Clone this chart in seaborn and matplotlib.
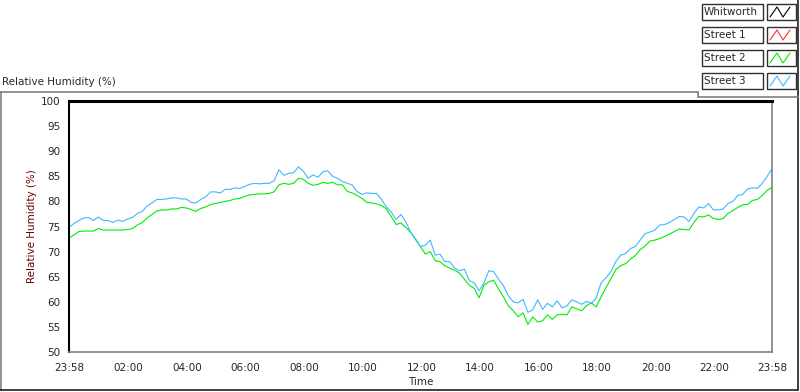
import seaborn as sns
import pandas as pd
import matplotlib.pyplot as plt
import matplotlib.dates as mdates
from matplotlib.lines import Line2D
from matplotlib.patches import Rectangle
import numpy as np

# readings every 10 minutes from 23:58 to 23:58 next day
street3 = [74.8, 75.6, 76.2, 76.7, 76.8, 76.2, 76.9, 76.2, 76.2, 75.8, 76.3, 76.0, 76.5, 76.8, 77.6, 78.0,
           79.1, 79.7, 80.4, 80.4, 80.5, 80.7, 80.7, 80.5, 80.5, 79.8, 79.7, 80.4, 80.9, 81.9, 81.9, 81.7,
           82.4, 82.4, 82.7, 82.6, 83.0, 83.4, 83.6, 83.5, 83.6, 83.6, 84.1, 86.3, 85.2, 85.6, 85.7, 86.9,
           86.0, 84.6, 85.3, 84.8, 85.9, 86.1, 85.0, 84.6, 84.0, 83.6, 83.3, 82.0, 81.4, 81.7, 81.6, 81.6,
           80.4, 78.9, 77.9, 76.4, 77.4, 75.9, 73.8, 72.5, 71.0, 71.3, 72.3, 69.3, 69.5, 68.0, 68.0, 66.7,
           66.2, 66.5, 64.2, 63.8, 62.2, 63.8, 66.2, 66.0, 64.5, 63.2, 61.2, 60.0, 59.8, 60.5, 57.9, 58.4,
           60.4, 58.5, 59.7, 59.0, 60.2, 58.8, 59.2, 60.4, 60.0, 59.5, 60.1, 59.7, 60.8, 63.8, 64.8, 66.0,
           68.0, 69.3, 69.6, 70.6, 71.0, 72.3, 73.6, 73.9, 74.3, 75.3, 75.4, 75.8, 76.4, 77.0, 76.9, 76.0,
           77.6, 78.9, 78.7, 79.6, 78.3, 78.3, 78.5, 79.6, 80.0, 81.2, 81.4, 82.5, 82.7, 82.6, 83.6, 85.0,
           86.5]
street2 = [72.7, 73.3, 74.0, 74.1, 74.1, 74.1, 74.6, 74.3, 74.3, 74.3, 74.3, 74.3, 74.4, 74.6, 75.3, 75.8,
           76.7, 77.4, 78.1, 78.3, 78.3, 78.5, 78.5, 78.8, 78.7, 78.4, 78.0, 78.6, 78.9, 79.4, 79.6, 79.8,
           80.0, 80.2, 80.5, 80.6, 81.0, 81.3, 81.4, 81.5, 81.5, 81.6, 81.9, 83.3, 83.6, 83.4, 83.6, 84.6,
           84.4, 83.6, 83.2, 83.4, 83.8, 83.6, 83.8, 83.3, 83.3, 82.0, 81.7, 81.2, 80.6, 79.8, 79.7, 79.5,
           79.2, 78.5, 77.0, 75.4, 75.7, 74.8, 73.8, 72.4, 71.0, 69.5, 70.0, 68.2, 68.0, 67.2, 66.7, 66.3,
           65.7, 64.5, 63.3, 62.7, 60.8, 63.3, 64.0, 64.3, 62.5, 61.0, 59.2, 58.2, 57.0, 57.8, 55.5, 57.0,
           56.0, 56.2, 57.4, 56.5, 57.4, 57.5, 57.4, 59.0, 58.6, 58.2, 59.2, 59.8, 59.0, 61.0, 62.8, 64.6,
           66.4, 67.2, 67.6, 68.5, 69.2, 70.4, 71.1, 72.1, 72.3, 72.6, 73.0, 73.5, 74.0, 74.5, 74.4, 74.3,
           75.8, 77.0, 76.9, 77.3, 76.6, 76.4, 76.6, 77.6, 78.2, 78.8, 79.3, 79.4, 80.2, 80.4, 81.2, 82.2,
           82.8]
legend_names = ['Whitworth', 'Street 1', 'Street 2', 'Street 3']
legend_colors = ['#000000', '#ff3030', '#00ee00', '#3cb8ff']
y_ticks = [50, 55, 60, 65, 70, 75, 80, 85, 90, 95, 100]

start = pd.Timestamp('2020-01-01 23:58')
times = pd.date_range(start, periods=len(street2), freq='10min')
end = times[-1]

df = pd.concat([
    pd.DataFrame({'Time': times, 'RH': street2, 'Series': 'Street 2'}),
    pd.DataFrame({'Time': times, 'RH': street3, 'Series': 'Street 3'}),
])

sns.set_style('white')
plt.rcParams['font.family'] = ['DejaVu Sans']

fig = plt.figure(figsize=(8, 3.92), dpi=100)
ax = fig.add_axes([0.08625, 0.102, 0.87875, 0.6403])

sns.lineplot(data=df, x='Time', y='RH', hue='Series',
             palette={'Street 2': legend_colors[2], 'Street 3': legend_colors[3]},
             linewidth=0.8, legend=False, ax=ax)

ax.set_xlim(start, end)
ax.set_ylim(50, 100)
ax.set_yticks(y_ticks)
ax.tick_params(axis='both', labelsize=7.5, length=4, width=1, color='black', pad=2)
ax.tick_params(axis='x', pad=4)

majors = [start] + list(pd.date_range('2020-01-02 02:00', '2020-01-02 22:00', freq='2h')) + [end]
ax.set_xticks(mdates.date2num(majors))
ax.set_xticklabels([t.strftime('%H:%M') for t in majors])
minors = pd.date_range('2020-01-02 00:00', '2020-01-02 23:45', freq='15min')
ax.set_xticks(mdates.date2num(minors), minor=True)
ax.tick_params(axis='x', which='minor', length=3, width=1, color='black')

for side in ['top', 'left']:
    ax.spines[side].set_color('black')
ax.spines['top'].set_linewidth(2.2)
ax.spines['left'].set_linewidth(1.5)
for side in ['right', 'bottom']:
    ax.spines[side].set_color('#808080')
    ax.spines[side].set_linewidth(1.2)

ax.set_xlabel('Time', fontsize=7.5, labelpad=3)
ax.set_ylabel('Relative Humidity (%)', fontsize=7.5, color='#6b0000', labelpad=3)

# chart title and panel frame
fig.text(2 / 800, 1 - 82 / 392, 'Relative Humidity (%)', fontsize=7.5, va='center', ha='left')
W, H = 800, 392
def fl(x0, y0, x1, y1, c='#808080', lw=1.2):
    fig.add_artist(Line2D([x0 / W, x1 / W], [1 - y0 / H, 1 - y1 / H], color=c, lw=lw))
fl(0, 92, 698, 92)
fl(0.5, 92, 0.5, 390)
fl(0, 389.5, 798, 389.5, c='#202020')
fl(797.5, 0, 797.5, 390, c='#202020')
fl(698, 92, 698, 97)
fl(698, 96.5, 798, 96.5)

# legend boxes
rows = [4, 27, 50, 73]
for name, col, y0 in zip(legend_names, legend_colors, rows):
    fig.add_artist(Rectangle((702 / W, 1 - (y0 + 16) / H), 61 / W, 16 / H,
                             fill=False, edgecolor='#303030', lw=1.0))
    fig.text(704 / W, 1 - (y0 + 8) / H, name, fontsize=7.5, va='center', ha='left')
    fig.add_artist(Rectangle((767 / W, 1 - (y0 + 16) / H), 29 / W, 16 / H,
                             fill=False, edgecolor='#303030', lw=1.0))
    zx = np.array([770, 777, 783, 790]) / W
    zy = 1 - np.array([y0 + 13, y0 + 3, y0 + 13, y0 + 3]) / H
    fig.add_artist(Line2D(zx, zy, color=col, lw=0.8))

plt.savefig('out.png', dpi=100)
